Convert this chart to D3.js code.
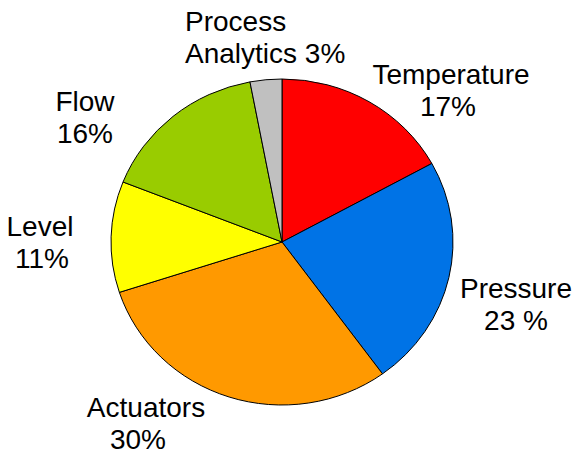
<!DOCTYPE html>
<html>
<head>
<meta charset="utf-8">
<script src="https://cdn.jsdelivr.net/npm/d3@7"></script>
<style>
  html, body { margin: 0; padding: 0; background: #fff; }
  svg text { font-family: "Liberation Sans", Arial, sans-serif; font-size: 28px; fill: #000; }
</style>
</head>
<body>
<svg id="chart" width="574" height="455"></svg>
<script>
// Share of instrumentation by category (percent)
const categories = ["Temperature", "Pressure", "Actuators", "Level", "Flow", "Process Analytics"];
const shares = [17, 23, 30, 11, 16, 3];
const valueLabels = ["17%", "23 %", "30%", "11%", "16%", "3%"];
const sliceColors = ["#ff0000", "#0073e6", "#ff9900", "#ffff00", "#99cc00", "#c0c0c0"];

// Label layout: anchor point, alignment, horizontal nudge of the value line
const labelLayout = [
  { x: 451, y: 84,  anchor: "middle", dx2: -3, lines: d => [d.cat, d.val] },
  { x: 516, y: 298, anchor: "middle", dx2: 0,  lines: d => [d.cat, d.val] },
  { x: 146, y: 417, anchor: "middle", dx2: -8, lines: d => [d.cat, d.val] },
  { x: 40,  y: 236, anchor: "middle", dx2: 2,  lines: d => [d.cat, d.val] },
  { x: 85,  y: 111, anchor: "middle", dx2: 0,  lines: d => [d.cat, d.val] },
  { x: 185, y: 31,  anchor: "start",  dx2: 0,  lines: d => ["Process", "Analytics " + d.val] }
];

const svg = d3.select("#chart");
const cx = 282, cy = 242, ry = 163, rx = 171;

const data = categories.map((c, i) => ({ cat: c, value: shares[i], val: valueLabels[i], color: sliceColors[i] }));

const pie = d3.pie().sort(null).value(d => d.value).startAngle(0).endAngle(2 * Math.PI);
const arc = d3.arc().innerRadius(0).outerRadius(ry);

const g = svg.append("g")
  .attr("transform", `translate(${cx},${cy}) scale(${rx / ry},1)`);

g.selectAll("path")
  .data(pie(data))
  .join("path")
  .attr("d", arc)
  .attr("fill", d => d.data.color)
  .attr("stroke", "#000")
  .attr("stroke-width", 1)
  .attr("stroke-linejoin", "round")
  .attr("vector-effect", "non-scaling-stroke");

const lineGap = 32;
data.forEach((d, i) => {
  const L = labelLayout[i];
  const t = svg.append("text")
    .attr("x", L.x)
    .attr("y", L.y)
    .attr("text-anchor", L.anchor);
  L.lines(d).forEach((line, j) => {
    t.append("tspan")
      .attr("x", L.x + (j === 1 ? L.dx2 : 0))
      .attr("y", L.y + j * lineGap)
      .text(line);
  });
});
</script>
</body>
</html>
